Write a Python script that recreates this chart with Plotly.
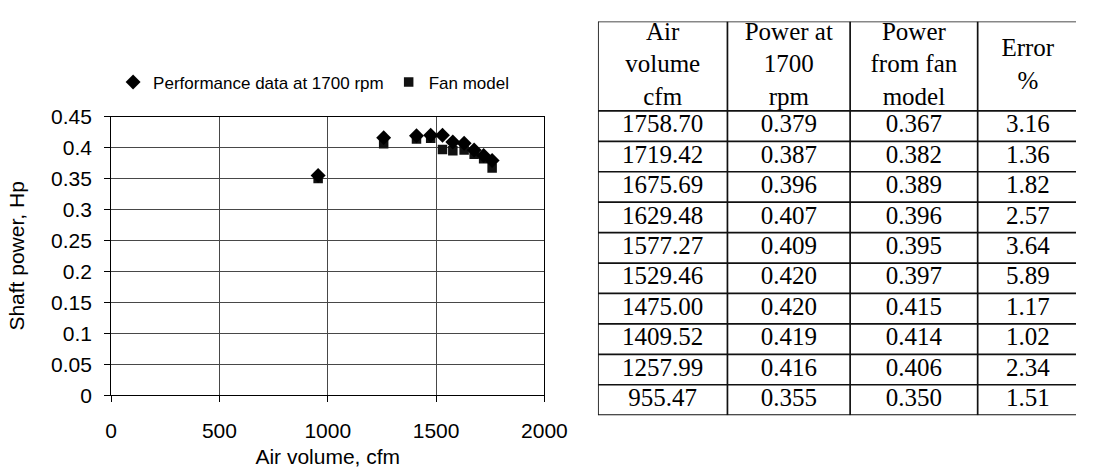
import plotly.graph_objects as go

# Fan test data at 1700 rpm and the fan-model prediction
air_volume = [1758.70, 1719.42, 1675.69, 1629.48, 1577.27,
              1529.46, 1475.00, 1409.52, 1257.99, 955.47]
power_measured = [0.379, 0.387, 0.396, 0.407, 0.409,
                  0.420, 0.420, 0.419, 0.416, 0.355]
power_model = [0.367, 0.382, 0.389, 0.396, 0.395,
               0.397, 0.415, 0.414, 0.406, 0.350]
error_pct = [3.16, 1.36, 1.82, 2.57, 3.64, 5.89, 1.17, 1.02, 2.34, 1.51]

header_labels = ["Air<br>volume<br>cfm", "Power at<br>1700<br>rpm",
                 "Power<br>from fan<br>model", "Error<br>%"]
x_ticks = [0, 500, 1000, 1500, 2000]
y_ticks = [0, 0.05, 0.1, 0.15, 0.2, 0.25, 0.3, 0.35, 0.4, 0.45]

W, H = 1099, 468
SANS = "Liberation Sans, Arial, sans-serif"
SERIF = "Liberation Serif, Times New Roman, serif"

fig = go.Figure()

# ---- scatter chart -------------------------------------------------------
fig.add_trace(go.Scatter(
    x=air_volume, y=power_model, mode="markers", name="Fan model",
    marker=dict(symbol="square", size=9.5, color="#111111",
                line=dict(width=0)),
    xaxis="x", yaxis="y"))
fig.add_trace(go.Scatter(
    x=air_volume, y=power_measured, mode="markers",
    name="Performance data at 1700 rpm",
    marker=dict(symbol="diamond", size=11.5, color="#000000",
                line=dict(width=0)),
    xaxis="x", yaxis="y"))

# ---- table drawn on its own pixel-unit axes ------------------------------
col_widths = [133, 126, 131, 103]
header_h, row_h = 94, 32
table_w = 491                     # visible width of the table area
table_h = header_h + row_h * len(air_volume)

col_edges = [0]
for w in col_widths:
    col_edges.append(col_edges[-1] + w)
col_centers = [(col_edges[i] + col_edges[i + 1]) / 2 for i in range(4)]
row_edges = [0, header_h] + [header_h + row_h * (i + 1) for i in range(len(air_volume))]

columns = [
    [f"{v:.2f}" for v in air_volume],
    [f"{v:.3f}" for v in power_measured],
    [f"{v:.3f}" for v in power_model],
    [f"{v:.2f}" for v in error_pct],
]

tx, ty, tt = [], [], []
for c in range(4):
    tx.append(col_centers[c]); ty.append(header_h / 2); tt.append(header_labels[c])
    for r, val in enumerate(columns[c]):
        tx.append(col_centers[c])
        ty.append(header_h + row_h * r + row_h / 2)
        tt.append(val)

fig.add_trace(go.Scatter(
    x=tx, y=ty, text=tt, mode="text", textposition="middle center",
    textfont=dict(family=SERIF, size=25, color="#000000"),
    hoverinfo="skip", showlegend=False, cliponaxis=False,
    xaxis="x2", yaxis="y2"))

shapes = []
for xe in col_edges:
    shapes.append(dict(type="line", xref="x2", yref="y2", x0=xe, x1=xe,
                       y0=0, y1=table_h, line=dict(color="#111111", width=1.7)))
for ye in row_edges:
    shapes.append(dict(type="line", xref="x2", yref="y2", x0=0, x1=col_edges[-1],
                       y0=ye, y1=ye, line=dict(color="#111111", width=1.7)))

# ---- layout --------------------------------------------------------------
px_x0, px_x1 = 108, 553          # chart plot area, horizontal
px_y0, px_y1 = 110, 403          # chart plot area, vertical (top, bottom)
tb_x0, tb_y0 = 608, 10           # table top-left corner

fig.update_layout(
    width=W, height=H,
    margin=dict(l=0, r=0, t=0, b=0),
    paper_bgcolor="white", plot_bgcolor="white",
    font=dict(family=SANS, color="#000000"),
    shapes=shapes,
    showlegend=True,
    legend=dict(orientation="h", x=110 / W, y=1 - 74 / H,
                xanchor="left", yanchor="middle",
                font=dict(family=SANS, size=17, color="#000000"),
                traceorder="reversed", itemwidth=30,
                bgcolor="rgba(0,0,0,0)"),
    xaxis=dict(
        domain=[px_x0 / W, px_x1 / W], range=[0, 2000],
        tickvals=x_ticks, ticktext=[str(v) for v in x_ticks],
        showgrid=True, gridcolor="#474747", gridwidth=1,
        showline=True, linecolor="#000000", linewidth=1, mirror=True,
        ticks="outside", ticklen=6, tickcolor="#000000",
        tickfont=dict(family=SANS, size=21, color="#000000"),
        ticklabelstandoff=11,
        zeroline=False, anchor="y",
        title=dict(text="Air volume, cfm", standoff=7,
                   font=dict(family=SANS, size=21, color="#000000")),
    ),
    yaxis=dict(
        domain=[1 - px_y1 / H, 1 - px_y0 / H], range=[0, 0.45],
        tickvals=y_ticks, ticktext=[f"{v:g}" for v in y_ticks],
        showgrid=True, gridcolor="#474747", gridwidth=1,
        showline=True, linecolor="#000000", linewidth=1, mirror=True,
        ticks="outside", ticklen=6, tickcolor="#000000",
        tickfont=dict(family=SANS, size=21, color="#000000"),
        ticklabelstandoff=8,
        zeroline=False, anchor="x",
        title=dict(text="Shaft power, Hp", standoff=20,
                   font=dict(family=SANS, size=21, color="#000000")),
    ),
    xaxis2=dict(domain=[tb_x0 / W, 1.0], range=[0, table_w],
                visible=False, anchor="y2", fixedrange=True),
    yaxis2=dict(domain=[1 - (tb_y0 + table_h) / H, 1 - tb_y0 / H],
                range=[table_h, 0], visible=False, anchor="x2",
                fixedrange=True),
)

fig.write_html("out.html")
